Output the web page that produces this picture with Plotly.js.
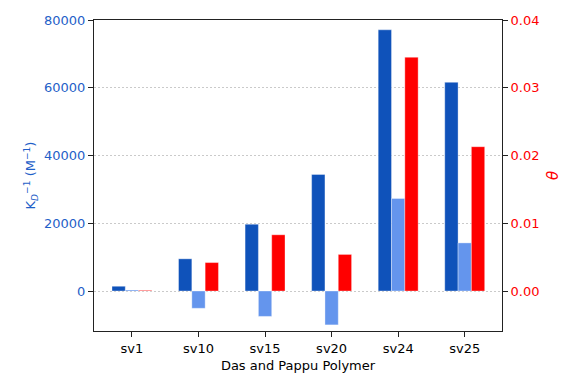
<!DOCTYPE html>
<html>
<head>
<meta charset="utf-8">
<script src="https://cdn.plot.ly/plotly-3.0.1.min.js"></script>
<style>
  html, body { margin: 0; padding: 0; background: #fff; }
  #plot { width: 581px; height: 388px; }
</style>
</head>
<body>
<div id="plot"></div>
<script>
// data
const polymers = ["sv1", "sv10", "sv15", "sv20", "sv24", "sv25"];
const kdInv = [1400, 9500, 19700, 34400, 77100, 61600];
const kdInvLight = [300, -5100, -7500, -10000, 27300, 14200];
const theta = [0.0001, 0.0042, 0.0083, 0.0054, 0.0345, 0.0213];

const leftTicks = [0, 20000, 40000, 60000, 80000];
const rightTicks = [0, 0.01, 0.02, 0.03, 0.04];

const font = "DejaVu Sans, sans-serif";
const darkBlue = "#0f52ba";
const lightBlue = "#6495ed";
const red = "#ff0000";

function barTrace(y, color, offset, axis) {
  return {
    type: "bar",
    x: polymers,
    y: y,
    yaxis: axis,
    width: 0.2,
    offset: offset,
    marker: { color: color, line: { color: "rgba(255,255,255,0.35)", width: 1 } },
    showlegend: false,
    hoverinfo: "x+y"
  };
}

const traces = [
  barTrace(kdInv, darkBlue, -0.3, "y"),
  barTrace(kdInvLight, lightBlue, -0.1, "y"),
  barTrace(theta, red, 0.1, "y2")
];

const layout = {
  width: 581,
  height: 388,
  margin: { l: 94, r: 79, t: 20, b: 57 },
  paper_bgcolor: "#fff",
  plot_bgcolor: "#fff",
  font: { family: font, size: 13, color: "#000" },
  xaxis: {
    type: "category",
    range: [-0.57, 5.56],
    showline: true,
    linecolor: "#222",
    linewidth: 1,
    mirror: true,
    ticks: "outside",
    ticklen: 5,
    tickcolor: "#222",
    showgrid: false,
    zeroline: false,
    title: { text: "Das and Pappu Polymer", font: { size: 13 }, standoff: 6 }
  },
  yaxis: {
    range: [-11808, 80000],
    tickvals: leftTicks,
    ticktext: leftTicks.map(String),
    showline: true,
    linecolor: "#222",
    linewidth: 1,
    ticks: "outside",
    ticklen: 5,
    tickcolor: "#222",
    tickfont: { color: "#1f5fc8", size: 13 },
    showgrid: true,
    gridcolor: "#bdbdbd",
    griddash: "2px,2px",
    gridwidth: 0.8,
    zeroline: false,
    title: {
      text: "K<sub><i>D</i></sub><sup>−1</sup> (M<sup>−1</sup>)",
      font: { color: "#1f5fc8", size: 13 },
      standoff: 5
    }
  },
  yaxis2: {
    overlaying: "y",
    side: "right",
    range: [-0.0059, 0.04],
    tickvals: rightTicks,
    ticktext: rightTicks.map(v => v.toFixed(2)),
    showline: true,
    linecolor: "#222",
    linewidth: 1,
    ticks: "outside",
    ticklen: 5,
    tickcolor: "#222",
    tickfont: { color: red, size: 13 },
    showgrid: false,
    zeroline: false,
    title: { text: "<i>θ</i>", font: { color: red, size: 15 }, standoff: 8 }
  },
  bargap: 0,
  barmode: "overlay"
};

Plotly.newPlot("plot", traces, layout, { staticPlot: true, displayModeBar: false });
</script>
</body>
</html>
